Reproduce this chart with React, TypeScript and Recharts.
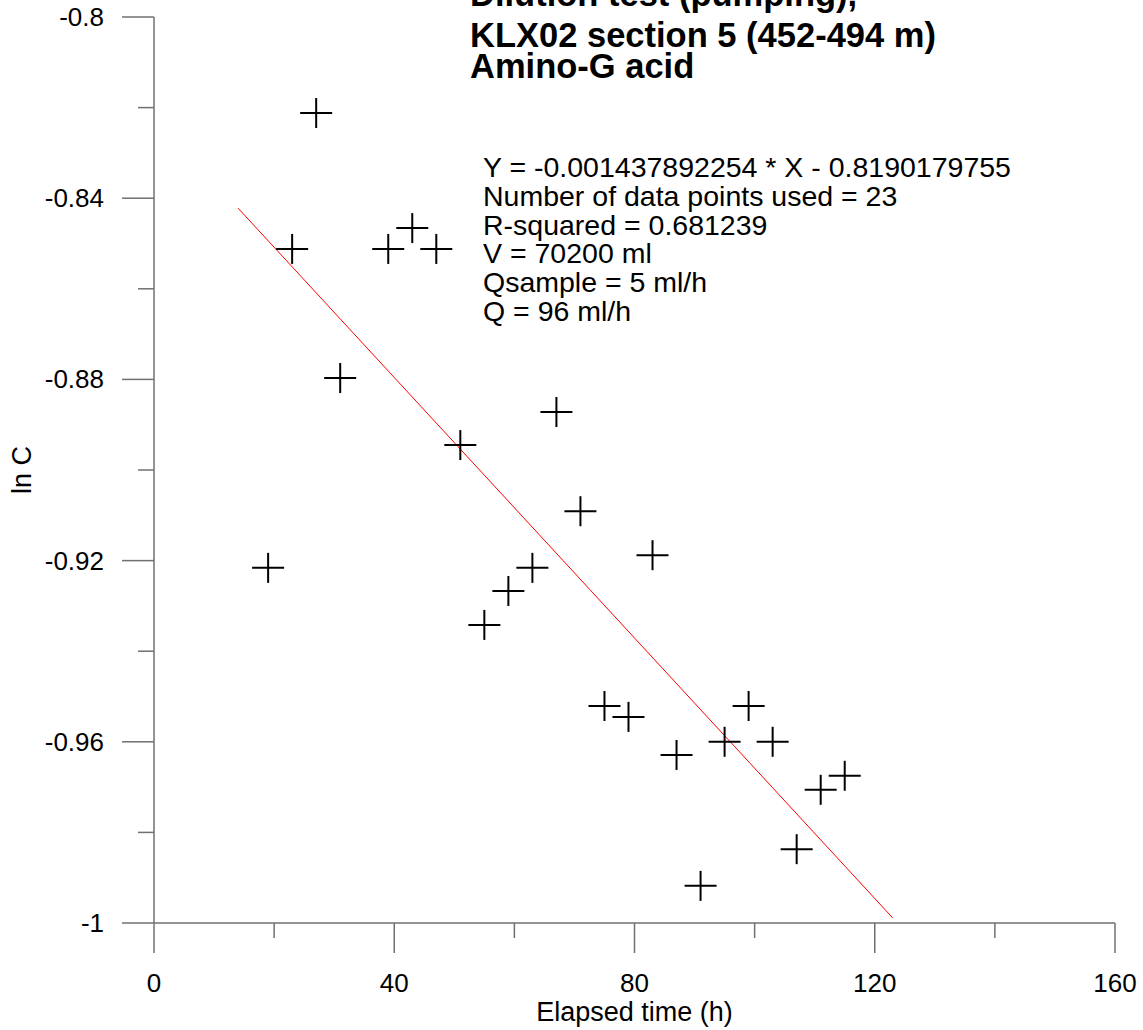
import React from "react";
import { ComposedChart, Scatter, XAxis, YAxis, ReferenceLine } from "recharts";

// Data
const elapsedHours = [19, 23, 27, 31, 39, 43, 47, 51, 55, 59, 63, 67, 71, 75, 79, 83, 87, 91, 95, 99, 103, 107, 111, 115];
const lnC = [-0.9216, -0.8512, -0.8212, -0.8797, -0.8512, -0.8466, -0.8512, -0.8945, -0.9342, -0.9267, -0.9216, -0.8872, -0.9091, -0.9521, -0.9545, -0.9188, -0.9629, -0.9918, -0.96, -0.9521, -0.96, -0.9837, -0.9706, -0.9675];

const fitX = [14, 123];
const fitY = [-0.8422, -0.9989];

const xTicks = [0, 20, 40, 60, 80, 100, 120, 140, 160];
const xMajorLabels: Record<number, string> = { 0: "0", 40: "40", 80: "80", 120: "120", 160: "160" };
const yTicks = [-1, -0.98, -0.96, -0.94, -0.92, -0.9, -0.88, -0.86, -0.84, -0.82, -0.8];
const yMajorLabels = ["-1", "-0.96", "-0.92", "-0.88", "-0.84", "-0.8"];

const titleLines = ["Dilution test (pumping),", "KLX02 section 5 (452-494 m)", "Amino-G acid"];
const annotationLines = [
  "Y = -0.001437892254 * X - 0.8190179755",
  "Number of data points used = 23",
  "R-squared = 0.681239",
  "V = 70200 ml",
  "Qsample = 5 ml/h",
  "Q = 96 ml/h",
];

const points = elapsedHours.map((x, i) => ({ x, y: lnC[i] }));

const FONT = "Arial, 'Liberation Sans', sans-serif";
const AXIS_COLOR = "#707070";
const TICK_FONT = 26;

const Cross = (props: any) => {
  const { cx, cy } = props;
  if (cx == null || cy == null) return <g />;
  return (
    <g>
      <line x1={cx - 16} y1={cy} x2={cx + 16} y2={cy} stroke="#000" strokeWidth={2} />
      <line x1={cx} y1={cy - 15} x2={cx} y2={cy + 15} stroke="#000" strokeWidth={2} />
    </g>
  );
};

const XTick = (props: any) => {
  const { x, y, payload } = props;
  const v = payload.value;
  const label = xMajorLabels[v];
  const major = label !== undefined;
  return (
    <g>
      <line x1={x} y1={y} x2={x} y2={y + (major ? 30 : 15)} stroke={AXIS_COLOR} strokeWidth={1.5} />
      {major && (
        <text x={x} y={y + 69} textAnchor="middle" fontFamily={FONT} fontSize={TICK_FONT} fill="#000">
          {label}
        </text>
      )}
    </g>
  );
};

const YTick = (props: any) => {
  const { x, y, index } = props;
  const major = index % 2 === 0;
  return (
    <g>
      <line x1={x - (major ? 32 : 16)} y1={y} x2={x} y2={y} stroke={AXIS_COLOR} strokeWidth={1.5} />
      {major && (
        <text x={x - 50} y={y + 9} textAnchor="end" fontFamily={FONT} fontSize={TICK_FONT} fill="#000">
          {yMajorLabels[index / 2]}
        </text>
      )}
    </g>
  );
};

export default function App() {
  return (
    <div style={{ position: "absolute", left: 0, top: 0, width: 1143, height: 1030, background: "#fff" }}>
      <ComposedChart
        width={1143}
        height={1030}
        data={points}
        margin={{ top: 17, right: 28, bottom: 77, left: 94 }}
      >
        <XAxis
          type="number"
          dataKey="x"
          domain={[0, 160]}
          ticks={xTicks}
          interval={0}
          tickSize={0}
          tickMargin={0}
          tickLine={false}
          tick={<XTick />}
          axisLine={{ stroke: AXIS_COLOR, strokeWidth: 1.5 }}
          height={30}
          allowDataOverflow
          label={{
            content: (p: any) => {
              const vb = p.viewBox || {};
              return (
                <text x={vb.x + vb.width / 2} y={1021} textAnchor="middle" fontFamily={FONT} fontSize={27} fill="#000">
                  Elapsed time (h)
                </text>
              );
            },
          }}
        />
        <YAxis
          type="number"
          dataKey="y"
          domain={[-1, -0.8]}
          ticks={yTicks}
          interval={0}
          tickSize={0}
          tickMargin={0}
          tickLine={false}
          tick={<YTick />}
          axisLine={{ stroke: AXIS_COLOR, strokeWidth: 1.5 }}
          width={60}
          allowDataOverflow
          label={{
            content: (p: any) => {
              const vb = p.viewBox || {};
              const cy = vb.y + vb.height / 2;
              return (
                <text x={31} y={cy} transform={`rotate(-90, 31, ${cy})`} textAnchor="middle" fontFamily={FONT} fontSize={27} fill="#000">
                  ln C
                </text>
              );
            },
          }}
        />
        <ReferenceLine
          segment={[
            { x: fitX[0], y: fitY[0] },
            { x: fitX[1], y: fitY[1] },
          ]}
          stroke="#ff0000"
          strokeWidth={1}
        />
        <Scatter data={points} dataKey="y" shape={<Cross />} isAnimationActive={false} />
      </ComposedChart>
      <svg
        width={1143}
        height={1030}
        style={{ position: "absolute", left: 0, top: 0, pointerEvents: "none" }}
      >
        {titleLines.map((t, i) => (
          <text key={t} x={470} y={i === 0 ? 6 : 16 + i * 31} fontFamily={FONT} fontWeight="bold" fontSize={34.5} fill="#000">
            {t}
          </text>
        ))}
        {annotationLines.map((t, i) => (
          <text key={t} x={483} y={177 + i * 28.8} fontFamily={FONT} fontSize={28.5} fill="#000">
            {t}
          </text>
        ))}
      </svg>
    </div>
  );
}
